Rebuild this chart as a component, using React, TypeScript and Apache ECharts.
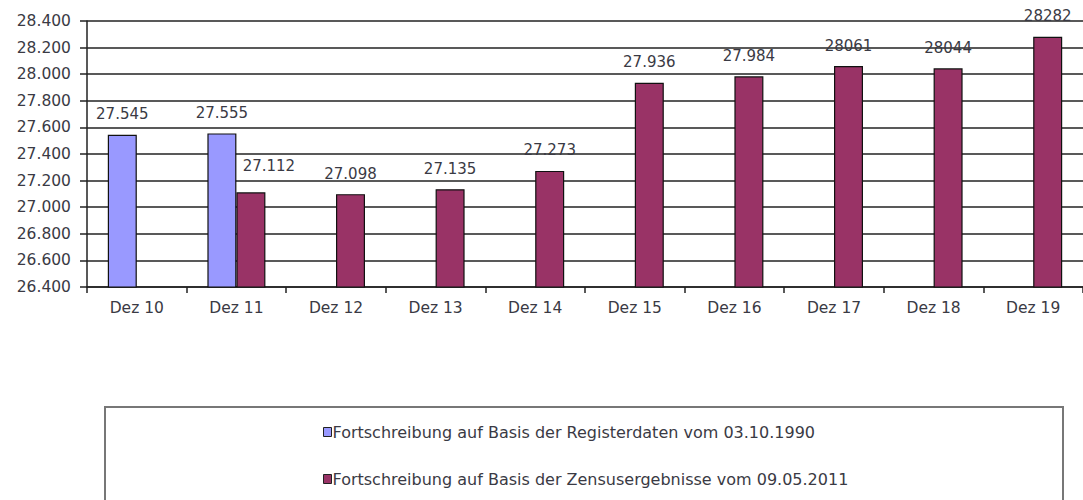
import React, { useEffect, useRef } from "react";
import * as echarts from "echarts";

const categories = ["Dez 10", "Dez 11", "Dez 12", "Dez 13", "Dez 14", "Dez 15", "Dez 16", "Dez 17", "Dez 18", "Dez 19"];
const registerValues = [27545, 27555, null, null, null, null, null, null, null, null];
const zensusValues = [null, 27112, 27098, 27135, 27273, 27936, 27984, 28061, 28044, 28282];
const plainLabelCategories = ["Dez 17", "Dez 18", "Dez 19"];
const seriesNames = [
  "Fortschreibung auf Basis der Registerdaten vom 03.10.1990",
  "Fortschreibung auf Basis der Zensusergebnisse vom 09.05.2011",
];
const yMin = 26400;
const yMax = 28400;
const yStep = 200;

const fmt = (v: number) => {
  const s = String(Math.round(v));
  return s.replace(/\B(?=(\d{3})+(?!\d))/g, ".");
};

const AXFONT = "'DejaVu Sans', sans-serif";
const TEXT = "#3a3a44";

export default function App() {
  const ref = useRef<HTMLDivElement>(null);
  useEffect(() => {
    if (!ref.current) return;
    const chart = echarts.init(ref.current, null, { renderer: "svg" });
    const labelFormatter = (p: any) =>
      plainLabelCategories.includes(p.name) ? String(p.value) : fmt(p.value);
    const labelStyle = {
      show: true,
      position: "top",
      distance: 13,
      color: TEXT,
      fontSize: 15,
      fontFamily: AXFONT,
      formatter: labelFormatter,
    };
    const zensusData = zensusValues.map((v, i) =>
      i === 1 && v != null ? { value: v, label: { offset: [18, -6] } } : v
    );
    const option: any = {
      animation: false,
      textStyle: { fontFamily: AXFONT },
      grid: { left: 87, right: -4, top: 21, height: 266, containLabel: false },
      legend: {
        orient: "vertical",
        left: 318,
        top: 419,
        itemGap: 31,
        itemWidth: 8,
        itemHeight: 9,
        icon: "rect",
        itemStyle: { borderColor: "#222", borderWidth: 1 },
        textStyle: { fontFamily: AXFONT, fontSize: 16, lineHeight: 16, color: TEXT, padding: [0, 0, 0, -4] },
        data: seriesNames,
      },
      graphic: [
        {
          type: "rect",
          left: 104,
          top: 406,
          shape: { width: 958, height: 110 },
          style: { fill: "#fff", stroke: "#777", lineWidth: 2 },
          z: -1,
        },
      ],
      xAxis: {
        type: "category",
        data: categories,
        axisLine: { lineStyle: { color: "#222", width: 1.5 } },
        axisTick: { show: true, length: 6, lineStyle: { color: "#222", width: 1.5 } },
        axisLabel: { color: TEXT, fontSize: 15.5, margin: 13, fontFamily: AXFONT },
      },
      yAxis: {
        type: "value",
        min: yMin,
        max: yMax,
        interval: yStep,
        axisLine: { show: true, lineStyle: { color: "#222", width: 1.5 } },
        axisTick: { show: true, length: 7, lineStyle: { color: "#222", width: 1.5 } },
        axisLabel: { color: TEXT, fontSize: 15.5, margin: 16, fontFamily: AXFONT, formatter: (v: number) => fmt(v) },
        splitLine: { show: true, lineStyle: { color: "#222", width: 1.6 } },
      },
      series: [
        {
          name: seriesNames[0],
          type: "bar",
          data: registerValues,
          barWidth: 29,
          barGap: "0%",
          itemStyle: { color: "#9999FF", borderColor: "#111", borderWidth: 1.2 },
          label: labelStyle,
        },
        {
          name: seriesNames[1],
          type: "bar",
          data: zensusData,
          barWidth: 29,
          barGap: "0%",
          itemStyle: { color: "#993366", borderColor: "#111", borderWidth: 1.2 },
          label: labelStyle,
        },
      ],
    };
    chart.setOption(option);
    return () => chart.dispose();
  }, []);
  return (
    <div
      ref={ref}
      style={{ position: "absolute", left: 0, top: 0, width: 1083, height: 500, background: "#fff" }}
    />
  );
}
